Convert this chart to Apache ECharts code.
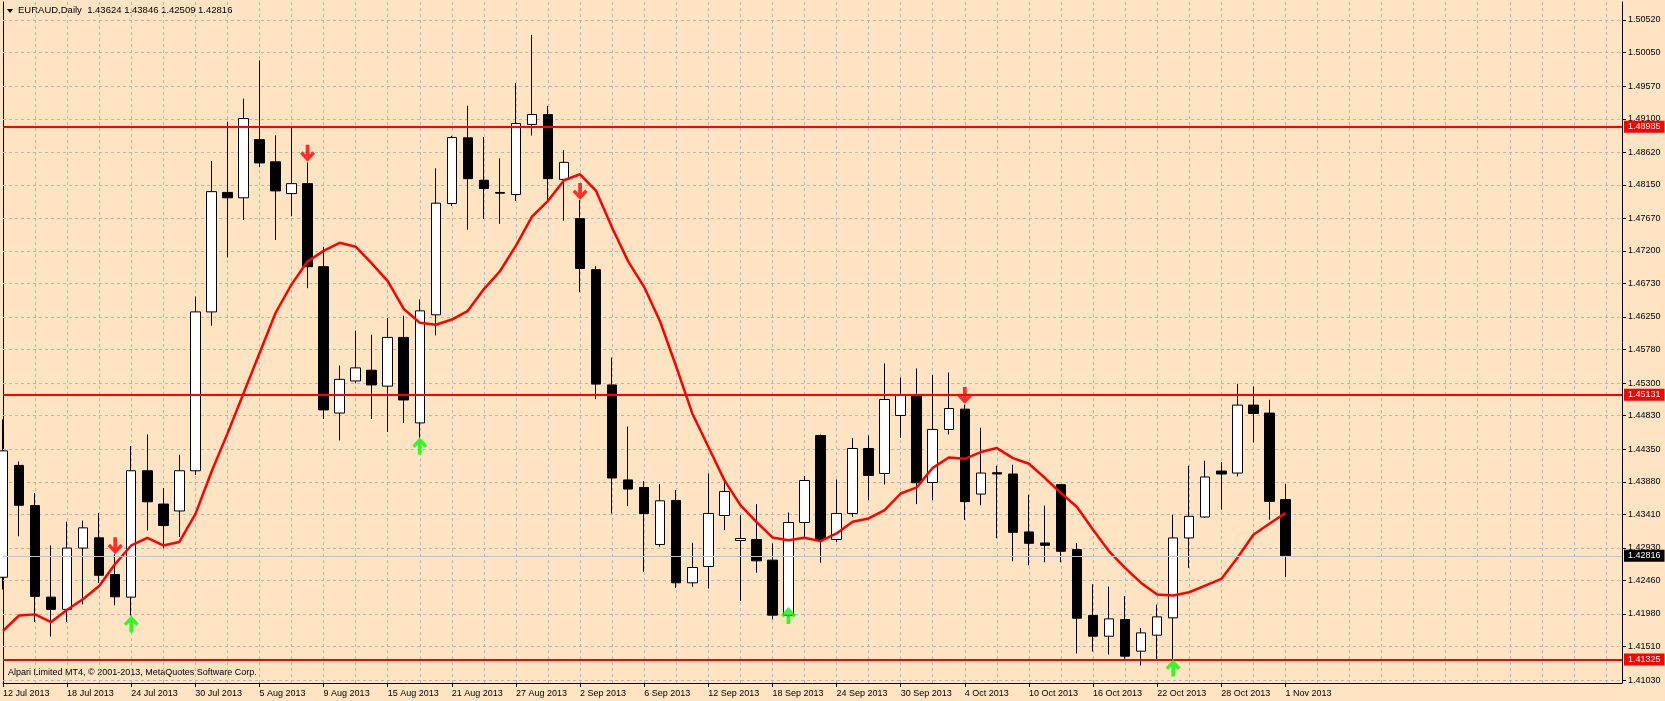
<!DOCTYPE html>
<html>
<head>
<meta charset="utf-8">
<script src="https://cdn.jsdelivr.net/npm/echarts@6/dist/echarts.min.js"></script>
<style>
html,body{margin:0;padding:0;background:#FFE4C4;}
#chart{width:1665px;height:701px;}
</style>
</head>
<body>
<div id="chart"></div>
<script>
// ---------------- DATA ----------------
const symbolName = 'EURAUD';
const timeframe = 'Daily';
const copyrightText = 'Alpari Limited MT4, \u00A9 2001-2013, MetaQuotes Software Corp.';

const dates = [
 '12 Jul 2013','15 Jul 2013','16 Jul 2013','17 Jul 2013','18 Jul 2013','19 Jul 2013','22 Jul 2013','23 Jul 2013','24 Jul 2013','25 Jul 2013','26 Jul 2013','29 Jul 2013','30 Jul 2013','31 Jul 2013',
 '1 Aug 2013','2 Aug 2013','5 Aug 2013','6 Aug 2013','7 Aug 2013','8 Aug 2013','9 Aug 2013','12 Aug 2013','13 Aug 2013','14 Aug 2013','15 Aug 2013','16 Aug 2013','19 Aug 2013','20 Aug 2013','21 Aug 2013','22 Aug 2013','23 Aug 2013','26 Aug 2013','27 Aug 2013','28 Aug 2013','29 Aug 2013','30 Aug 2013',
 '2 Sep 2013','3 Sep 2013','4 Sep 2013','5 Sep 2013','6 Sep 2013','9 Sep 2013','10 Sep 2013','11 Sep 2013','12 Sep 2013','13 Sep 2013','16 Sep 2013','17 Sep 2013','18 Sep 2013','19 Sep 2013','20 Sep 2013','23 Sep 2013','24 Sep 2013','25 Sep 2013','26 Sep 2013','27 Sep 2013','30 Sep 2013',
 '1 Oct 2013','2 Oct 2013','3 Oct 2013','4 Oct 2013','7 Oct 2013','8 Oct 2013','9 Oct 2013','10 Oct 2013','11 Oct 2013','14 Oct 2013','15 Oct 2013','16 Oct 2013','17 Oct 2013','18 Oct 2013','21 Oct 2013','22 Oct 2013','23 Oct 2013','24 Oct 2013','25 Oct 2013','28 Oct 2013','29 Oct 2013','30 Oct 2013','31 Oct 2013',
 '1 Nov 2013'
];

const opens = [
 1.42508,1.44116,1.43538,1.42222,1.42046,1.42927,1.43075,1.42547,1.42222,1.44039,
 1.43560,1.43461,1.44039,1.46323,1.48041,1.47964,1.48800,1.48481,1.48024,1.48167,
 1.46973,1.44869,1.45330,1.45484,1.45256,1.45956,1.44727,1.46281,1.47881,1.48826,
 1.48216,1.48040,1.48011,1.49019,1.49161,1.48228,1.47664,1.46930,1.45273,1.43907,
 1.43799,1.42979,1.43612,1.42428,1.42663,1.43396,1.43036,1.43051,1.42754,1.41963,
 1.43295,1.44546,1.43051,1.43425,1.44359,1.44000,1.44834,1.45112,1.43870,1.44633,
 1.44925,1.43704,1.44011,1.43992,1.43159,1.43001,1.43839,1.42905,1.41957,1.41660,
 1.41900,1.41445,1.41675,1.41924,1.43073,1.43374,1.44035,1.44006,1.44983,1.44868,
 1.43624
];
const highs = [
 1.44776,1.44171,1.43719,1.42965,1.43306,1.43323,1.43433,1.42838,1.44396,1.44562,
 1.43791,1.44270,1.46543,1.48492,1.49059,1.49389,1.49940,1.48861,1.48977,1.48470,
 1.47259,1.45552,1.46053,1.45996,1.46235,1.46269,1.46503,1.48387,1.48854,1.49287,
 1.48837,1.48530,1.49611,1.50306,1.49287,1.48649,1.47932,1.46981,1.45666,1.44675,
 1.43890,1.43846,1.43760,1.43003,1.44000,1.43880,1.43401,1.43559,1.42993,1.43439,
 1.43962,1.44560,1.43914,1.44508,1.44546,1.45582,1.45380,1.45510,1.45414,1.45452,
 1.44990,1.44657,1.44111,1.44126,1.43695,1.43537,1.43845,1.43001,1.42407,1.42374,
 1.42235,1.41780,1.42115,1.43408,1.44111,1.44183,1.44164,1.45289,1.45251,1.45059,
 1.43846
];
const lows = [
 1.42332,1.43097,1.41864,1.41655,1.41864,1.42117,1.42426,1.42106,1.41958,1.43180,
 1.42921,1.43086,1.43978,1.46125,1.47105,1.47644,1.48404,1.47358,1.47699,1.46664,
 1.44782,1.44476,1.45296,1.44784,1.44596,1.44727,1.44516,1.45985,1.47846,1.47505,
 1.47659,1.47590,1.47920,1.48860,1.47903,1.47636,1.46605,1.45068,1.43423,1.43531,
 1.42586,1.42945,1.42356,1.42370,1.42346,1.43185,1.42169,1.42572,1.41901,1.41939,
 1.43089,1.42715,1.43017,1.43377,1.43616,1.43842,1.44513,1.43559,1.43616,1.44561,
 1.43333,1.43542,1.43068,1.42737,1.42680,1.42723,1.42723,1.41411,1.41440,1.41397,
 1.41335,1.41239,1.41316,1.41325,1.42642,1.43360,1.43479,1.43958,1.44446,1.43336,
 1.42509
];
const closes = [
 1.44325,1.43543,1.42233,1.42046,1.42927,1.43218,1.42536,1.42227,1.44039,1.43593,
 1.43251,1.44039,1.46323,1.48052,1.47964,1.49103,1.48465,1.48063,1.48167,1.46973,
 1.44914,1.45353,1.45518,1.45273,1.45956,1.45057,1.46338,1.47886,1.48831,1.48239,
 1.48097,1.48030,1.49031,1.49161,1.48239,1.48473,1.46947,1.45285,1.43935,1.43776,
 1.43425,1.43607,1.42428,1.42648,1.43425,1.43741,1.43065,1.42744,1.41963,1.43295,
 1.43899,1.43051,1.43425,1.44359,1.43971,1.45064,1.45126,1.43866,1.44633,1.44934,
 1.43595,1.44006,1.43992,1.43154,1.42996,1.42967,1.42881,1.41919,1.41660,1.41909,
 1.41373,1.41708,1.41938,1.43073,1.43384,1.43949,1.43992,1.44983,1.44863,1.43599,
 1.42816
];

const maValues = [
 1.41737,1.41958,1.41974,1.41864,1.42040,1.42194,1.42382,1.42701,1.42965,1.43075,
 1.42965,1.43015,1.43416,1.44022,1.44573,1.45151,1.45729,1.46307,1.46719,1.47050,
 1.47200,1.47317,1.47260,1.47021,1.46765,1.46366,1.46167,1.46138,1.46213,1.46338,
 1.46651,1.46907,1.47277,1.47693,1.47920,1.48216,1.48302,1.48063,1.47533,1.47049,
 1.46680,1.46181,1.45534,1.44863,1.44383,1.43904,1.43545,1.43305,1.43080,1.43041,
 1.43075,1.43027,1.43137,1.43305,1.43353,1.43473,1.43712,1.43799,1.44081,1.44230,
 1.44210,1.44308,1.44365,1.44221,1.44140,1.43934,1.43719,1.43518,1.43192,1.42881,
 1.42642,1.42426,1.42259,1.42244,1.42292,1.42388,1.42484,1.42785,1.43120,1.43278,
 1.43432
];

const sellIdx   = [7, 19, 36, 60];
const sellPrice = [1.42838, 1.48481, 1.47932, 1.44997];
const buyIdx    = [8, 26, 49, 73];
const buyPrice  = [1.41958, 1.44516, 1.42081, 1.41325];

const levelLines = [1.48985, 1.45131, 1.41325];

const yTickValues = [
 1.41030,1.41510,1.41980,1.42460,1.42930,1.43410,1.43880,1.44350,1.44830,1.45300,
 1.45780,1.46250,1.46730,1.47200,1.47670,1.48150,1.48620,1.49100,1.49570,1.50050,1.50520
];

// ---------------- CHART ----------------
const FONT = 'Liberation Sans, Arial, sans-serif';
const padBars = 21;
const categories = dates.concat(Array.from({length: padBars}, (_, i) => '+' + (i + 1)));
const yMin = 1.409873, yMax = 1.507788;

const candleData = opens.map((o, i) => [o, closes[i], lows[i], highs[i]]);
const lastClose = closes[closes.length - 1];

const gridColor = '#BFB7AC';
const downArrow = 'path://M6,0 L10,0 L10,10 L13.5,6.5 L16,9 L8,17 L0,9 L2.5,6.5 L6,10 Z';
const upArrow   = 'path://M6,17 L10,17 L10,7 L13.5,10.5 L16,8 L8,0 L0,8 L2.5,10.5 L6,7 Z';

const priceTag = (v, bg) => ({
  yAxis: v,
  label: {
    show: true, position: 'end', distance: 2,
    formatter: () => v.toFixed(5),
    color: '#FFFFFF', backgroundColor: bg,
    fontFamily: FONT, fontSize: 9, padding: [2, 4, 1, 4]
  }
});

const option = {
  backgroundColor: '#FFE4C4',
  animation: false,
  grid: { left: 3, right: 43, top: 2, bottom: 18 },
  xAxis: {
    type: 'category',
    data: categories,
    boundaryGap: false,
    axisLine: { show: true, lineStyle: { color: '#000', width: 1 } },
    axisTick: {
      show: true, length: 4, lineStyle: { color: '#000' },
      interval: (i) => i % 4 === 0 && i < dates.length
    },
    axisLabel: {
      interval: (i) => i % 4 === 0 && i < dates.length,
      formatter: (v, i) => (i < dates.length ? v : ''),
      align: 'left', margin: 6, color: '#000',
      fontFamily: FONT, fontSize: 9
    },
    splitLine: {
      show: true, interval: (i) => i % 2 === 0,
      lineStyle: { color: gridColor, type: [3, 3], width: 1 }
    }
  },
  yAxis: [
    {
      type: 'value', position: 'right', min: yMin, max: yMax, scale: true,
      axisLine: { show: true, lineStyle: { color: '#000', width: 1 } },
      axisTick: { show: true, length: 4, inside: false, lineStyle: { color: '#000' }, customValues: yTickValues },
      axisLabel: {
        customValues: yTickValues, formatter: (v) => v.toFixed(5),
        color: '#000', fontFamily: FONT, fontSize: 9, margin: 6
      },
      splitLine: { show: false }
    },
    {
      type: 'value', position: 'left', min: yMin, max: yMax, scale: true,
      axisLine: { show: true, lineStyle: { color: '#000', width: 1 } },
      axisTick: { show: false }, axisLabel: { show: false }, splitLine: { show: false }
    }
  ],
  series: [
    {
      type: 'candlestick',
      data: candleData,
      barWidth: 10,
      z: 2,
      itemStyle: {
        color: '#FFFFFF', color0: '#000000',
        borderColor: '#000000', borderColor0: '#000000', borderWidth: 1
      },
      markLine: {
        silent: true, symbol: 'none', z: 1, animation: false, precision: 6,
        label: { show: false },
        lineStyle: { color: gridColor, type: [3, 3], width: 1 },
        data: yTickValues.map(v => ({ yAxis: v }))
      }
    },
    {
      type: 'line',
      data: maValues,
      showSymbol: false, symbol: 'none',
      z: 3,
      lineStyle: { color: '#FF0000', width: 2.5 },
      markLine: {
        silent: true, symbol: 'none', z: 4, animation: false, precision: 6,
        lineStyle: { color: '#FF0000', width: 2, type: 'solid' },
        data: levelLines.map(v => priceTag(v, '#FF0000')).concat([
          Object.assign(priceTag(lastClose, '#000000'), { lineStyle: { color: '#C0C0C0', width: 1, type: 'solid' } })
        ])
      }
    },
    {
      type: 'scatter',
      data: sellIdx.map((x, i) => [x, sellPrice[i]]),
      symbol: downArrow, symbolSize: [15, 17], symbolOffset: [0, '-50%'],
      itemStyle: { color: '#FF0000' }, z: 5
    },
    {
      type: 'scatter',
      data: buyIdx.map((x, i) => [x, buyPrice[i]]),
      symbol: upArrow, symbolSize: [15, 17], symbolOffset: [0, '50%'],
      itemStyle: { color: '#00FF00' }, z: 5
    }
  ],
  graphic: [
    { type: 'polygon', shape: { points: [[7, 9], [13, 9], [10, 13]] }, style: { fill: '#000' } },
    {
      type: 'text', left: 18, top: 5,
      style: {
        text: symbolName + ',' + timeframe + '  ' +
          [opens, highs, lows, closes].map(a => a[a.length - 1].toFixed(5)).join(' '),
        fill: '#000', font: '9.5px ' + FONT
      }
    },
    {
      type: 'text', left: 8, top: 668,
      style: { text: copyrightText, fill: '#000', font: '9px ' + FONT }
    }
  ]
};

const chart = echarts.init(document.getElementById('chart'), null, { renderer: 'canvas' });
chart.setOption(option);
</script>
</body>
</html>
